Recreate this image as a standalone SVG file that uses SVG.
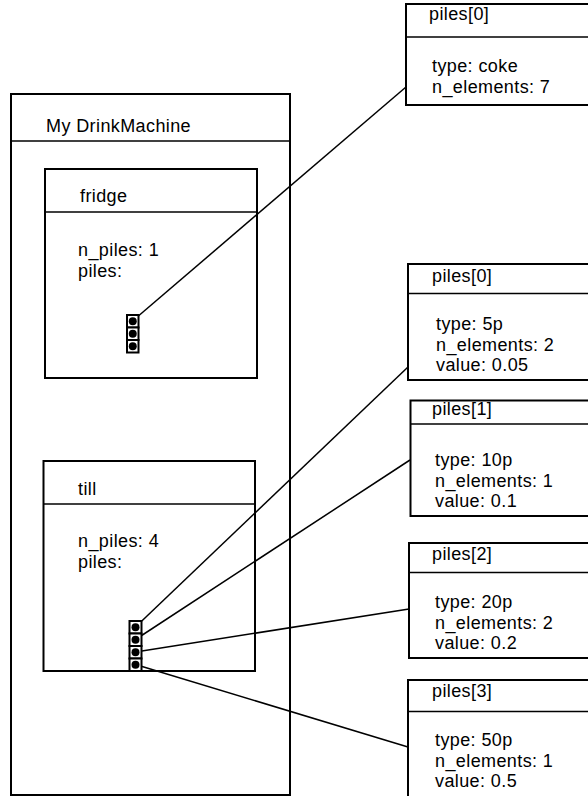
<svg xmlns="http://www.w3.org/2000/svg" width="588" height="796" viewBox="0 0 588 796">
<style>
.box{fill:none;stroke:#000;stroke-width:2}
.div{stroke:#000;stroke-width:1.5}
.t{font-family:"Liberation Sans",Arial,sans-serif;font-size:18px;letter-spacing:0.4px;fill:#000}
.conn{stroke:#000;stroke-width:1.5;fill:none}
.cell{fill:#fff;stroke:#000;stroke-width:2}
.dot{fill:#000}
</style>
<rect width="588" height="796" fill="#fff"/>
<g id="connectors">
<line class="conn" x1="132.5" y1="321" x2="406" y2="87"/>
<line class="conn" x1="135.5" y1="627" x2="408" y2="367"/>
<line class="conn" x1="135.5" y1="639.5" x2="410" y2="460"/>
<line class="conn" x1="135.5" y1="652" x2="409" y2="609"/>
<line class="conn" x1="135.5" y1="664.5" x2="408" y2="747"/>
</g>
<g id="drinkmachine">
<rect class="box" x="11" y="94" width="279" height="701"/>
<line class="div" x1="11" y1="141" x2="290" y2="141"/>
<text class="t" x="46" y="132">My DrinkMachine</text>
</g>
<g id="fridge">
<rect class="box" x="45" y="169" width="212" height="209"/>
<line class="div" x1="45" y1="212" x2="257" y2="212"/>
<text class="t" x="80" y="202">fridge</text>
<text class="t" x="78" y="256">n_piles: 1</text>
<text class="t" x="78" y="277">piles:</text>
<g id="fridge-piles">
<rect class="cell" x="127" y="315" width="11.5" height="12.5"/>
<rect class="cell" x="127" y="327.5" width="11.5" height="12.5"/>
<rect class="cell" x="127" y="340" width="11.5" height="12.5"/>
<circle class="dot" cx="132.75" cy="321.25" r="4"/>
<circle class="dot" cx="132.75" cy="333.75" r="4"/>
<circle class="dot" cx="132.75" cy="346.25" r="4"/>
</g>
</g>
<g id="till">
<rect class="box" x="43.5" y="461" width="211.5" height="210"/>
<line class="div" x1="43.5" y1="504" x2="255" y2="504"/>
<text class="t" x="78" y="495">till</text>
<text class="t" x="78" y="547">n_piles: 4</text>
<text class="t" x="78" y="568">piles:</text>
<g id="till-piles">
<rect class="cell" x="129.5" y="621" width="12" height="12.5"/>
<rect class="cell" x="129.5" y="633.5" width="12" height="12.5"/>
<rect class="cell" x="129.5" y="646" width="12" height="12.5"/>
<rect class="cell" x="129.5" y="658.5" width="12" height="12.5"/>
<circle class="dot" cx="135.5" cy="627.25" r="4"/>
<circle class="dot" cx="135.5" cy="639.75" r="4"/>
<circle class="dot" cx="135.5" cy="652.25" r="4"/>
<circle class="dot" cx="135.5" cy="664.75" r="4"/>
</g>
</g>
<g id="fridge-pile0">
<rect class="box" x="406" y="4" width="200" height="101"/>
<line class="div" x1="406" y1="37" x2="588" y2="37"/>
<text class="t" x="429" y="20">piles[0]</text>
<text class="t" x="432" y="72">type: coke</text>
<text class="t" x="432" y="93">n_elements: 7</text>
</g>
<g id="till-pile0">
<rect class="box" x="408" y="264" width="200" height="116"/>
<line class="div" x1="408" y1="293.5" x2="588" y2="293.5"/>
<text class="t" x="432" y="282">piles[0]</text>
<text class="t" x="436" y="330">type: 5p</text>
<text class="t" x="436" y="350.5">n_elements: 2</text>
<text class="t" x="436" y="371">value: 0.05</text>
</g>
<g id="till-pile1">
<rect class="box" x="410.5" y="400.5" width="200" height="115.5"/>
<line class="div" x1="410.5" y1="424" x2="588" y2="424"/>
<text class="t" x="432" y="415">piles[1]</text>
<text class="t" x="435" y="466">type: 10p</text>
<text class="t" x="435" y="486.5">n_elements: 1</text>
<text class="t" x="435" y="507">value: 0.1</text>
</g>
<g id="till-pile2">
<rect class="box" x="409" y="543" width="200" height="115"/>
<line class="div" x1="409" y1="572.5" x2="588" y2="572.5"/>
<text class="t" x="432" y="560">piles[2]</text>
<text class="t" x="435" y="608">type: 20p</text>
<text class="t" x="435" y="628.5">n_elements: 2</text>
<text class="t" x="435" y="649">value: 0.2</text>
</g>
<g id="till-pile3">
<rect class="box" x="408" y="680" width="200" height="130"/>
<line class="div" x1="408" y1="711.5" x2="588" y2="711.5"/>
<text class="t" x="432" y="697">piles[3]</text>
<text class="t" x="435" y="746">type: 50p</text>
<text class="t" x="435" y="766.5">n_elements: 1</text>
<text class="t" x="435" y="787">value: 0.5</text>
</g>
</svg>
